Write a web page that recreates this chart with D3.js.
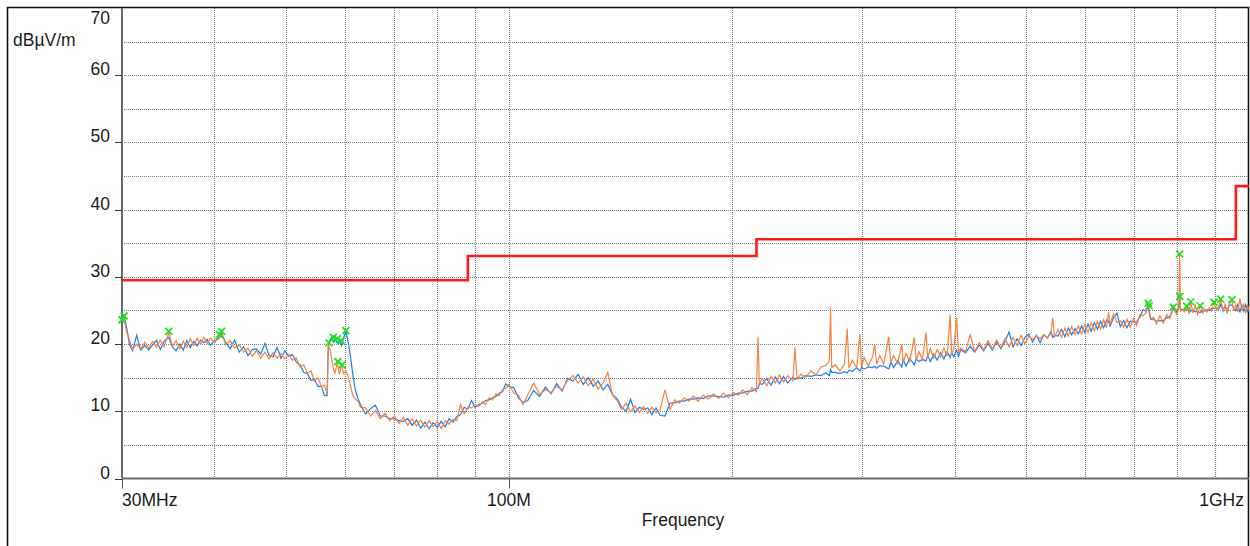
<!DOCTYPE html>
<meta charset="utf-8">
<style>
body { margin: 0; background: #fff; }
svg { display: block; font-family: "Liberation Sans", Arial, sans-serif; }
</style>
<body>
<script src="https://cdn.jsdelivr.net/npm/d3@7/dist/d3.min.js"></script>
<script>
// sweep frequencies (MHz) and the two measured traces (dBuV/m)
var freqMHz = [
  30, 30.2, 30.4, 30.7, 31, 31.4, 31.8, 32.2, 32.6, 33,
  33.4, 33.8, 34.2, 34.7, 35.1, 35.5, 35.9, 36.3, 36.7, 37.1,
  37.5, 37.9, 38.3, 38.7, 39.1, 39.5, 40, 40.5, 40.9, 41.4,
  42, 42.6, 43.2, 43.8, 44.4, 45, 45.6, 46.2, 46.8, 47.4,
  48, 48.6, 49.2, 49.8, 50.4, 51, 51.6, 52.2, 52.8, 53.4,
  54, 54.6, 55.2, 55.8, 56.3, 56.8, 57.0, 57.3, 57.6, 57.9,
  58.2, 58.6, 59, 59.4, 59.8, 60.2, 60.6, 61, 61.5, 62,
  62.5, 63, 64, 65, 66, 67, 68, 69, 70, 71,
  72, 73, 74, 75, 76, 77, 78, 79, 80, 81,
  82, 83, 84, 85, 86, 87, 88, 89, 90, 91,
  92, 93, 94, 95, 96, 97, 98, 99, 100, 101.5,
  103, 104.5, 106, 108, 110, 112, 114, 116, 118, 120,
  122, 124, 126, 128, 130, 132, 134, 136, 138, 140,
  142, 144, 146, 148, 150, 152, 154, 156, 158, 160,
  162.5, 165, 167.5, 170, 172.5, 175, 177.5, 180, 183, 186,
  189, 192, 195, 198, 201, 204, 207, 210, 213, 216,
  217, 218, 220, 223, 226, 229, 232, 235, 238, 242,
  243.5, 245, 248, 252, 256, 260, 264, 268, 271, 272,
  273, 276, 280, 284, 286.5, 288, 291, 295, 298, 299.5,
  302, 306, 310, 312, 314, 317, 321, 326, 328, 331,
  335, 339.5, 341, 344, 348, 353, 355, 358, 362, 366,
  368, 371, 375, 379, 383, 387, 391, 394.6, 396.5, 399,
  402.6, 405, 408, 414, 420, 426, 432, 438, 444, 450,
  456, 462, 468, 474, 480, 486, 492, 498, 504, 510,
  516, 522, 528, 534, 540, 543, 546, 552, 558, 564,
  570, 576, 582, 588, 594, 600, 606, 612, 618, 624,
  630, 636, 642, 646, 649, 656, 663, 670, 677, 684,
  691, 698, 705, 712, 719, 726, 731, 736, 743, 750,
  758, 766, 774, 782, 790, 798, 804, 806, 808, 812,
  818, 824, 830, 834, 840, 846, 852, 859, 866, 872,
  878, 884, 890, 897, 904, 910, 916, 922, 928, 934,
  940, 948, 954, 960, 966, 972, 978, 984, 990, 996, 1000
];

var blueDb = [
  23.2, 24.2, 22.8, 20.0, 19.0, 21.3, 19.1, 19.8, 19.1, 19.9,
  20.6, 19.2, 20.4, 21.0, 19.5, 19.0, 20.0, 19.1, 20.5, 19.5,
  20.4, 19.7, 20.6, 20.2, 20.7, 19.8, 20.5, 20.8, 21.5, 20.3,
  19.3, 20.6, 18.8, 19.6, 18.3, 19.2, 19.3, 18.5, 20.1, 18.3,
  18.1, 19.5, 17.9, 19.0, 18.2, 18.4, 17.3, 16.9, 15.8, 15.6,
  14.6, 14.7, 13.7, 13.7, 12.4, 12.3, 19.6, 20.6, 21.0, 20.3,
  20.8, 20.2, 20.5, 19.8, 21.0, 21.9, 20.5, 18.6, 15.6, 13.2,
  11.9, 11.0, 9.6, 10.4, 10.9, 9.3, 9.3, 8.9, 8.9, 8.6,
  8.5, 8.9, 7.9, 8.7, 7.5, 8.4, 7.4, 8.3, 7.6, 8.5,
  7.7, 8.9, 8.4, 9.2, 9.5, 10.6, 10.3, 11.6, 10.6, 11.0,
  11.2, 11.6, 11.7, 12.0, 12.2, 12.7, 12.9, 14.1, 13.7, 13.5,
  12.0, 11.3, 11.6, 13.1, 12.2, 13.6, 12.6, 14.1, 13.0, 14.9,
  14.5, 15.5, 14.0, 15.0, 13.7, 14.5, 13.2, 14.0, 12.5, 11.9,
  10.6, 10.0, 11.8, 9.8, 10.6, 10.3, 10.5, 9.5, 10.5, 9.4,
  9.3, 11.2, 11.3, 11.5, 11.5, 11.8, 11.8, 12.0, 11.9, 12.3,
  12.3, 12.2, 12.1, 12.4, 12.4, 12.7, 12.7, 13.0, 13.0, 13.4,
  13.4, 14.1, 14.0, 14.9, 13.9, 15.1, 14.1, 15.2, 14.2, 15.1,
  14.7, 15.0, 14.9, 15.3, 15.2, 15.4, 15.3, 15.7, 15.3, 16.2,
  15.8, 15.8, 15.6, 15.9, 15.7, 16.1, 15.9, 16.5, 16.0, 16.5,
  16.3, 16.6, 16.5, 16.7, 16.4, 16.8, 16.7, 16.3, 17.3, 16.5,
  17.5, 16.6, 17.7, 16.7, 17.9, 16.9, 17.8, 17.4, 17.7, 17.5,
  18.3, 17.4, 18.5, 17.6, 18.7, 17.8, 18.9, 18.0, 18.8, 18.1,
  19.1, 18.2, 19.2, 18.7, 19.7, 18.8, 19.9, 19.0, 20.1, 19.1,
  20.3, 19.3, 20.4, 21.8, 19.6, 20.8, 19.8, 21.0, 21.5, 20.3,
  21.3, 20.2, 21.4, 20.9, 21.9, 21.0, 21.3, 21.2, 22.2, 21.1,
  22.4, 21.4, 22.3, 21.5, 22.7, 21.7, 23.0, 21.9, 23.2, 22.2,
  23.4, 22.4, 23.6, 23.4, 22.7, 23.9, 24.6, 22.6, 23.5, 22.4,
  23.4, 23.3, 23.3, 24.0, 25.1, 24.9, 25.6, 23.7, 23.7, 23.4,
  23.5, 23.5, 23.9, 24.1, 25.2, 24.7, 25.6, 27.1, 25.3, 25.1,
  25.2, 25.0, 25.4, 24.9, 25.1, 24.8, 24.9, 24.7, 25.0, 24.9,
  25.1, 25.0, 25.3, 25.3, 25.4, 25.2, 25.9, 24.9, 25.7, 24.7,
  25.8, 25.8, 25.4, 25.0, 25.9, 24.7, 25.8, 24.9, 25.9, 24.8, 24.9
];

var orangeDb = [
  23.6, 24.1, 22.0, 20.6, 19.2, 20.0, 19.3, 20.3, 19.4, 20.4,
  19.5, 20.6, 19.6, 21.7, 19.7, 20.5, 19.3, 20.4, 19.5, 20.8,
  19.8, 20.9, 20.0, 21.0, 20.1, 20.9, 20.2, 21.0, 21.8, 19.9,
  20.5, 19.4, 19.9, 18.8, 19.4, 18.2, 19.0, 17.9, 18.8, 17.8,
  18.7, 17.9, 18.6, 17.8, 18.5, 17.6, 17.9, 16.6, 16.9, 15.7,
  16.0, 14.5, 15.0, 13.7, 13.9, 12.6, 19.9, 19.2, 17.8, 16.4,
  15.6, 17.3, 15.5, 16.9, 15.6, 16.0, 15.3, 14.0, 12.4, 11.8,
  11.5, 10.6, 10.5, 9.3, 10.1, 8.9, 9.7, 8.6, 9.3, 8.2,
  9.1, 7.9, 8.9, 7.8, 8.7, 7.6, 8.6, 7.7, 8.5, 7.4,
  8.6, 8.1, 8.8, 8.6, 11.0, 9.6, 10.6, 10.5, 11.0, 10.7,
  11.4, 11.0, 12.0, 11.7, 12.6, 12.3, 13.2, 13.4, 14.0, 12.7,
  12.4, 11.0, 12.4, 14.2, 12.5, 13.2, 12.8, 13.7, 13.2, 14.6,
  15.3, 14.2, 15.1, 13.8, 14.8, 13.3, 14.2, 15.8, 12.4, 11.6,
  10.3, 11.2, 9.9, 10.8, 9.8, 10.7, 9.7, 10.6, 9.8, 10.2,
  13.2, 10.3, 11.7, 11.2, 12.0, 11.5, 12.3, 11.5, 12.4, 11.8,
  12.6, 11.9, 12.7, 12.0, 12.8, 12.4, 13.2, 12.5, 13.5, 12.9,
  21.0, 14.0, 14.9, 13.8, 15.2, 14.2, 15.4, 14.3, 15.3, 14.6,
  19.5, 14.8, 15.5, 15.1, 16.0, 15.4, 16.6, 16.8, 17.5, 25.4,
  16.5, 16.9, 16.0, 17.0, 22.3, 16.4, 17.6, 16.5, 21.5, 16.6,
  18.0, 16.8, 18.1, 19.9, 17.0, 18.3, 17.0, 21.1, 17.2, 18.3,
  17.1, 19.9, 17.3, 18.6, 17.4, 21.0, 17.6, 18.9, 17.7, 21.7,
  18.0, 19.3, 17.9, 19.2, 18.1, 19.4, 18.2, 24.4, 18.5, 19.2,
  23.9, 18.8, 19.4, 18.9, 21.4, 18.9, 20.2, 19.1, 20.5, 19.3,
  20.6, 19.4, 20.8, 19.6, 21.0, 19.8, 21.3, 20.0, 21.2, 20.7,
  21.2, 20.8, 21.4, 20.9, 21.6, 23.9, 21.0, 22.2, 21.0, 22.4,
  21.2, 22.6, 21.4, 22.7, 21.5, 22.9, 21.7, 23.2, 22.0, 23.4,
  22.2, 23.6, 22.4, 24.8, 22.9, 24.5, 23.2, 23.5, 22.5, 23.7,
  22.5, 23.8, 22.8, 24.4, 24.2, 24.7, 26.1, 23.8, 24.0, 23.0,
  24.2, 23.1, 24.4, 23.8, 25.5, 24.4, 25.3, 33.4, 24.9, 25.1,
  24.8, 25.6, 24.5, 26.3, 24.6, 25.8, 24.4, 25.7, 24.6, 25.2,
  24.8, 25.4, 24.9, 26.2, 25.0, 25.6, 26.7, 24.9, 25.9, 24.8,
  25.8, 26.6, 24.9, 25.9, 24.8, 26.8, 25.0, 25.9, 24.7, 25.7, 25.0
];

// limit line: band edges (MHz) and level of each band
var limitEdges = [30, 88, 216, 960, 1000];
var limitDb = [29.5, 33.1, 35.6, 43.5];

// peak markers
var markFreq = [30.0, 30.2, 34.7, 40.6, 40.9, 57.1, 57.9, 58.6, 59.3, 60.2, 58.7, 59.5,
                731, 733, 790, 806, 806, 824, 834, 859, 897, 916, 948];
var markDb = [23.6, 24.2, 21.9, 21.4, 21.9, 20.2, 21.0, 20.8, 20.5, 22.0, 17.4, 16.9,
              26.1, 25.7, 25.5, 33.4, 27.1, 25.6, 26.3, 25.7, 26.2, 26.7, 26.6];

var yTicks = [0, 10, 20, 30, 40, 50, 60, 70];
var gridFreq = [40, 50, 60, 70, 80, 90, 100, 200, 300, 400, 500, 600, 700, 800, 900];
var xLabels = [[30, "30MHz", "start"], [100, "100M", "middle"], [1000, "1GHz", "end"]];

var width = 1250, height = 546,
    plotL = 122, plotR = 1249, plotT = 8, plotB = 478.5;

var x = d3.scaleLog().domain([30, 1000]).range([plotL, plotR]);
var y = d3.scaleLinear().domain([0, 70]).range([plotB, plotT]);

var svg = d3.select("body").append("svg")
    .attr("width", width)
    .attr("height", height);

svg.append("defs").append("clipPath").attr("id", "clip")
  .append("rect").attr("x", plotL).attr("y", plotT)
    .attr("width", plotR - plotL).attr("height", plotB - plotT);

// grid
var grid = svg.append("g")
    .attr("stroke", "#7c7c7c")
    .attr("stroke-width", 1.2)
    .attr("stroke-dasharray", "1,1");
grid.selectAll(".v").data(gridFreq).enter().append("line")
    .attr("x1", function(d) { return Math.round(x(d)) + 0.5; })
    .attr("x2", function(d) { return Math.round(x(d)) + 0.5; })
    .attr("y1", plotT).attr("y2", plotB);
grid.selectAll(".h").data(d3.range(5, 70, 5)).enter().append("line")
    .attr("x1", plotL).attr("x2", plotR)
    .attr("y1", function(d) { return Math.round(y(d)) + 0.5; })
    .attr("y2", function(d) { return Math.round(y(d)) + 0.5; });

// frame
svg.append("path")
    .attr("d", "M7.5,546V7.5H1248.5V546")
    .attr("fill", "none")
    .attr("stroke", "#111")
    .attr("stroke-width", 1.6);

// axes
svg.append("line").attr("x1", plotL).attr("x2", plotL)
    .attr("y1", plotT).attr("y2", plotB)
    .attr("stroke", "#6a6a6a").attr("stroke-width", 2);
svg.append("line").attr("x1", plotL).attr("x2", plotR)
    .attr("y1", plotB).attr("y2", plotB)
    .attr("stroke", "#6a6a6a").attr("stroke-width", 2);

svg.selectAll(".yt").data(yTicks.slice(0, -1)).enter().append("line")
    .attr("x1", plotL - 7).attr("x2", plotL)
    .attr("y1", function(d) { return Math.round(y(d)) + 0.5; })
    .attr("y2", function(d) { return Math.round(y(d)) + 0.5; })
    .attr("stroke", "#333");

svg.selectAll(".yl").data(yTicks).enter().append("text")
    .text(String)
    .attr("x", 110)
    .attr("y", function(d) { return d == 70 ? 24 : y(d); })
    .attr("text-anchor", "end")
    .attr("font-size", "17.5px")
    .attr("fill", "#1a1a1a");

svg.append("text").text("dBµV/m")
    .attr("x", 13).attr("y", 46)
    .attr("font-size", "17.5px").attr("fill", "#1a1a1a");

svg.selectAll(".xt").data(xLabels.slice(0, 2)).enter().append("line")
    .attr("x1", function(d) { return Math.round(x(d[0])) + 0.5; })
    .attr("x2", function(d) { return Math.round(x(d[0])) + 0.5; })
    .attr("y1", plotB).attr("y2", plotB + 10)
    .attr("stroke", "#555");

svg.selectAll(".xl").data(xLabels).enter().append("text")
    .text(function(d) { return d[1]; })
    .attr("x", function(d) { return d[2] == "end" ? x(d[0]) - 5 : x(d[0]); })
    .attr("y", 506)
    .attr("text-anchor", function(d) { return d[2]; })
    .attr("font-size", "17.5px")
    .attr("fill", "#1a1a1a");

svg.append("text").text("Frequency")
    .attr("x", 683).attr("y", 526)
    .attr("text-anchor", "middle")
    .attr("font-size", "17.5px").attr("fill", "#1a1a1a");

// traces
var plot = svg.append("g").attr("clip-path", "url(#clip)");

var line = d3.line()
    .x(function(d) { return x(d[0]); })
    .y(function(d) { return y(d[1]); });

plot.append("path")
    .datum(freqMHz.map(function(f, i) { return [f, blueDb[i]]; }))
    .attr("d", line)
    .attr("fill", "none")
    .attr("stroke", "#1a7cf2")
    .attr("stroke-width", 1.2);

plot.append("path")
    .datum(freqMHz.map(function(f, i) { return [f, orangeDb[i]]; }))
    .attr("d", line)
    .attr("fill", "none")
    .attr("stroke", "#f7823f")
    .attr("stroke-width", 1.2);

// limit
var limitPts = limitDb.map(function(v, i) { return [limitEdges[i], v]; });
limitPts.push([limitEdges[limitEdges.length - 1], limitDb[limitDb.length - 1]]);
plot.append("path")
    .datum(limitPts)
    .attr("d", line.curve(d3.curveStepAfter))
    .attr("fill", "none")
    .attr("stroke", "#ff1a1a")
    .attr("stroke-width", 2.6);

// markers
var mk = svg.append("g")
    .attr("stroke", "#1fe01f")
    .attr("stroke-width", 1.7);
mk.selectAll("path").data(markFreq).enter().append("path")
    .attr("d", function(f, i) {
        var cx = x(f), cy = y(markDb[i]), r = 3.5;
        return "M" + (cx - r) + "," + (cy - r) + "L" + (cx + r) + "," + (cy + r) +
               "M" + (cx - r) + "," + (cy + r) + "L" + (cx + r) + "," + (cy - r);
    });
</script>
